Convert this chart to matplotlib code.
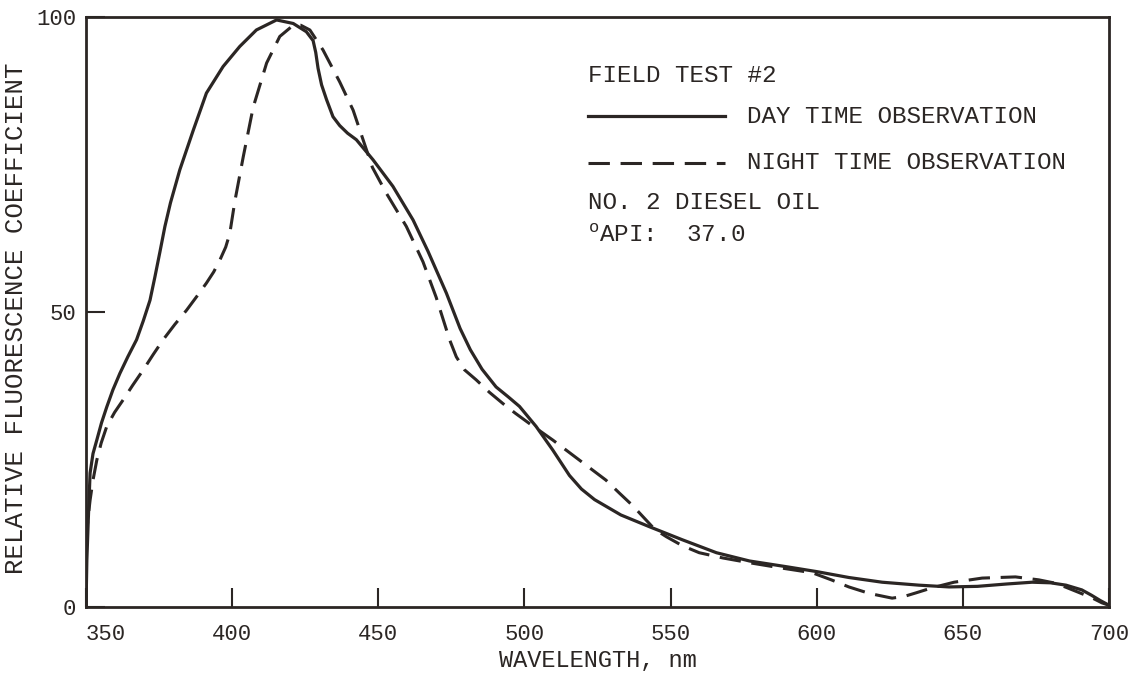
import matplotlib
matplotlib.use("Agg")
from matplotlib import pyplot as plt

INK = "#2b2624"

# (wavelength nm, relative coefficient)
day_nm = [350.0, 350.3, 350.8, 351.4, 352.4, 353.7, 355.3, 357.1, 359.2, 361.6, 364.3,
          367.3, 369.6, 371.9, 373.6, 375.3, 377.0, 378.9, 382.1, 386.7, 391.2, 396.9,
          402.6, 408.3, 415.2, 420.9, 425.4, 427.7, 428.6, 429.4, 430.6, 432.3, 434.5,
          436.8, 439.5, 442.5, 448.2, 455.0, 461.9, 467.0, 473.3, 478.0, 481.5, 485.5,
          490.3, 494.5, 498.3, 504.0, 509.7, 515.4, 519.5, 524.0, 533.0, 542.8, 554.0,
          565.7, 577.0, 590.0, 600.0, 611.0, 622.4, 635.0, 645.3, 655.0, 665.0, 673.7,
          680.0, 685.3, 690.7, 694.0, 697.0, 700.0]
day_val = [0.0, 8.0, 15.0, 22.7, 26.0, 28.3, 31.2, 33.9, 36.8, 39.6, 42.4,
           45.3, 48.5, 52.0, 56.0, 60.2, 64.5, 68.5, 74.1, 80.8, 87.1, 91.6,
           95.0, 97.8, 99.5, 98.9, 97.5, 96.0, 94.0, 91.3, 88.5, 86.0, 83.1,
           81.6, 80.3, 79.2, 75.8, 71.3, 65.6, 60.3, 53.2, 47.2, 43.6, 40.3,
           37.3, 35.6, 34.0, 30.6, 26.6, 22.3, 20.0, 18.2, 15.6, 13.6, 11.4,
           9.2, 7.8, 6.8, 6.0, 5.0, 4.2, 3.7, 3.4, 3.5, 3.9, 4.2,
           4.1, 3.7, 2.9, 2.0, 1.1, 0.3]

night_nm = [350.0, 350.2, 350.8, 351.4, 352.4, 353.7, 355.2, 357.1, 359.8, 362.7, 366.0,
            369.6, 373.0, 376.4, 380.4, 384.4, 388.0, 391.2, 393.7, 395.8, 397.8, 399.2,
            400.9, 403.8, 407.2, 411.8, 416.3, 420.9, 423.5, 426.6, 431.1, 436.8, 441.4,
            444.8, 448.0, 452.8, 459.6, 465.3, 469.8, 474.4, 476.7, 479.5, 483.5, 488.0,
            492.6, 497.0, 501.7, 509.7, 518.8, 527.9, 532.5, 537.0, 541.7, 544.5, 548.6,
            554.0, 559.8, 568.0, 577.0, 588.0, 598.5, 605.0, 611.0, 618.0, 625.8, 630.0,
            634.0, 638.5, 643.0, 647.0, 656.6, 668.0, 676.0, 681.0, 685.0, 690.0, 694.0,
            697.6, 700.0]
night_val = [0.0, 12.5, 15.5, 18.1, 21.5, 24.9, 27.8, 30.6, 33.0, 35.1, 37.6,
             40.2, 42.8, 45.3, 47.9, 50.3, 52.7, 54.9, 56.8, 58.8, 61.0, 63.3,
             68.7, 76.3, 84.7, 92.2, 96.7, 98.6, 98.6, 97.8, 94.4, 89.0, 84.2,
             79.2, 74.5, 70.1, 64.5, 58.5, 52.5, 45.3, 42.4, 40.2, 38.5, 36.4,
             34.5, 32.8, 31.1, 28.3, 24.9, 21.5, 19.3, 17.2, 14.7, 13.2, 11.9,
             10.4, 9.2, 8.3, 7.5, 6.6, 5.8, 4.6, 3.4, 2.3, 1.5, 1.8,
             2.4, 3.1, 3.7, 4.2, 4.9, 5.1, 4.6, 4.1, 3.4, 2.4, 1.6,
             0.7, 0.3]

x_ticks = [350, 400, 450, 500, 550, 600, 650, 700]
y_ticks = [0, 50, 100]

header = "FIELD TEST #2"
day_label = "DAY TIME OBSERVATION"
night_label = "NIGHT TIME OBSERVATION"
oil_label = "NO. 2 DIESEL OIL"
api_label = r"$^{\mathregular{o}}$API:  37.0"

plt.rcParams["font.family"] = ["Liberation Mono", "DejaVu Sans Mono"]
plt.rcParams["mathtext.fontset"] = "custom"
plt.rcParams["mathtext.rm"] = "Liberation Mono"

fig = plt.figure(figsize=(11.3, 6.77), dpi=100)
ax = fig.add_axes([0.0761, 0.1034, 0.9053, 0.8715])

ax.plot(day_nm, day_val, color=INK, lw=2.3, solid_capstyle="round", solid_joinstyle="round")
ax.plot(night_nm, night_val, color=INK, lw=2.2, dashes=(7, 3.5))

ax.set_xlim(350, 700)
ax.set_ylim(0, 100)
ax.set_xticks(x_ticks)
ax.set_yticks(y_ticks)
ax.tick_params(direction="in", length=14, width=1.5, colors=INK, labelsize=16)
ax.tick_params(axis="x", pad=12)
ax.tick_params(axis="y", pad=7)
ax.get_xticklabels()[0].set_horizontalalignment("left")
for s in ax.spines.values():
    s.set_linewidth(2)
    s.set_color(INK)

ax.set_xlabel("WAVELENGTH, nm", fontsize=17, color=INK, labelpad=3)
ax.set_ylabel("RELATIVE FLUORESCENCE COEFFICIENT", fontsize=18.5, color=INK)
ax.yaxis.set_label_coords(-0.0565, 0.49)

# legend block
fs = 17.5
ax.text(521.6, 90.0, header, fontsize=fs, color=INK, va="center")
ax.plot([521.6, 568.7], [83.2, 83.2], color=INK, lw=2.3)
ax.text(576.2, 83.2, day_label, fontsize=fs, color=INK, va="center")
ax.plot([521.6, 568.7], [75.3, 75.3], color=INK, lw=2.2, dashes=(7, 3.5))
ax.text(576.2, 75.3, night_label, fontsize=fs, color=INK, va="center")
ax.text(521.6, 68.6, oil_label, fontsize=fs, color=INK, va="center")
ax.text(521.6, 63.0, api_label, fontsize=fs, color=INK, va="center")

fig.savefig("out.png", dpi=100)
